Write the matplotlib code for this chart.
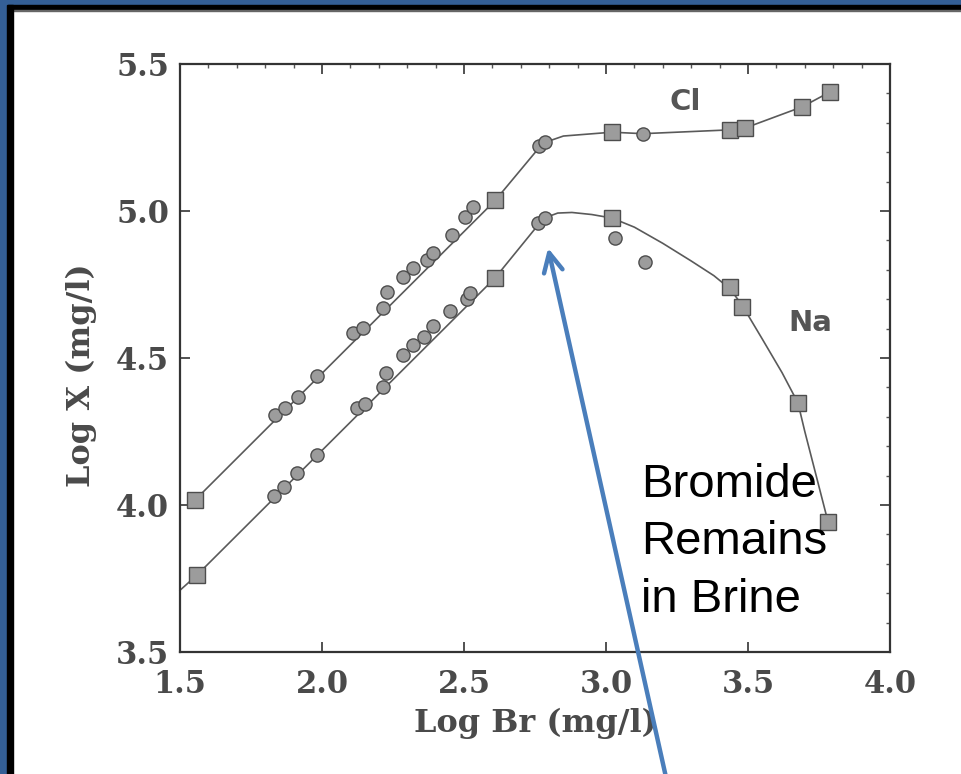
import matplotlib
matplotlib.use("Agg")
import matplotlib.pyplot as plt
from matplotlib.patches import Rectangle
from matplotlib.ticker import MultipleLocator

# ---------------- data ----------------
cl_line_x = [1.553, 2.609, 2.778, 2.85, 3.021, 3.13, 3.437, 3.489, 3.690, 3.789]
cl_line_y = [4.017, 5.035, 5.231, 5.255, 5.268, 5.263, 5.276, 5.282, 5.354, 5.405]

cl_circ_x = [1.835, 1.87, 1.915, 1.982, 2.109, 2.144, 2.215, 2.229, 2.285, 2.320, 2.370, 2.391, 2.458, 2.504, 2.532, 2.765, 2.785, 3.130]
cl_circ_y = [4.305, 4.33, 4.367, 4.439, 4.585, 4.602, 4.670, 4.724, 4.776, 4.806, 4.833, 4.857, 4.918, 4.980, 5.014, 5.22, 5.235, 5.262]

cl_sq_x = [1.553, 2.609, 3.021, 3.437, 3.489, 3.690, 3.789]
cl_sq_y = [4.017, 5.037, 5.269, 5.276, 5.282, 5.354, 5.405]

na_line_x = [1.5, 1.56, 2.609, 2.78, 2.83, 2.88, 2.95, 3.021, 3.1, 3.2, 3.3, 3.38, 3.437, 3.479,
             3.55, 3.62, 3.676, 3.70, 3.74, 3.782]
na_line_y = [3.71, 3.762, 4.772, 4.975, 4.993, 4.995, 4.988, 4.976, 4.945, 4.89, 4.83, 4.78, 4.735, 4.68,
             4.565, 4.45, 4.347, 4.25, 4.10, 3.942]

na_circ_x = [1.83, 1.865, 1.912, 1.982, 2.123, 2.15, 2.215, 2.225, 2.285, 2.32, 2.36, 2.39, 2.451, 2.51, 2.52, 2.76, 2.785, 3.032, 3.137]
na_circ_y = [4.03, 4.06, 4.11, 4.17, 4.33, 4.345, 4.40, 4.45, 4.51, 4.545, 4.57, 4.61, 4.66, 4.70, 4.72, 4.96, 4.976, 4.908, 4.827]

na_sq_x = [1.56, 2.609, 3.021, 3.437, 3.479, 3.676, 3.782]
na_sq_y = [3.762, 4.772, 4.976, 4.741, 4.673, 4.347, 3.942]

x_ticks = [1.5, 2.0, 2.5, 3.0, 3.5, 4.0]
x_tick_labels = ["1.5", "2.0", "2.5", "3.0", "3.5", "4.0"]
y_ticks = [3.5, 4.0, 4.5, 5.0, 5.5]
y_tick_labels = ["3.5", "4.0", "4.5", "5.0", "5.5"]

# ---------------- figure ----------------
W, H = 962, 774
fig = plt.figure(figsize=(W / 100, H / 100), dpi=100)
fig.patch.set_facecolor("white")

# frame borders (top and left)
blue = "#345f96"
fig.patches.append(Rectangle((0, 1 - 5 / H), 1, 5 / H, transform=fig.transFigure, color=blue, zorder=0))
fig.patches.append(Rectangle((0, 1 - 10 / H), 1, 5 / H, transform=fig.transFigure, color="black", zorder=0))
fig.patches.append(Rectangle((0, 1 - 11 / H), 1, 1 / H, transform=fig.transFigure, color="#666666", zorder=0))
fig.patches.append(Rectangle((0, 0), 7 / W, 1, transform=fig.transFigure, color=blue, zorder=1))
fig.patches.append(Rectangle((7 / W, 0), 6 / W, 1 - 5 / H, transform=fig.transFigure, color="black", zorder=1))

ax = fig.add_axes([180 / W, 1 - 652 / H, 710 / W, 588 / H])
ax.set_xlim(1.5, 4.0)
ax.set_ylim(3.5, 5.5)

tc = "#4a4a4a"
lc = "#5a5a5a"
fc = "#9c9c9c"
ec = "#4d4d4d"

ax.plot(cl_line_x, cl_line_y, color=lc, lw=1.2, zorder=2)
ax.plot(na_line_x, na_line_y, color=lc, lw=1.2, zorder=2, clip_on=False)
ax.plot(cl_circ_x, cl_circ_y, "o", ms=9.5, mfc=fc, mec=ec, mew=1.0, zorder=3)
ax.plot(na_circ_x, na_circ_y, "o", ms=9.5, mfc=fc, mec=ec, mew=1.0, zorder=3)
ax.plot(cl_sq_x, cl_sq_y, "s", ms=11, mfc=fc, mec=ec, mew=1.0, zorder=3)
ax.plot(na_sq_x, na_sq_y, "s", ms=11, mfc=fc, mec=ec, mew=1.0, zorder=3)

ax.text(3.28, 5.37, "Cl", fontsize=21, fontweight="bold", color="#555555",
        family="DejaVu Sans", ha="center", va="center")
ax.text(3.72, 4.62, "Na", fontsize=21, fontweight="bold", color="#555555",
        family="DejaVu Sans", ha="center", va="center")

for s in ax.spines.values():
    s.set_color("#333333")
    s.set_linewidth(1.6)

ax.set_xticks(x_ticks)
ax.set_xticklabels(x_tick_labels)
ax.set_yticks(y_ticks)
ax.set_yticklabels(y_tick_labels)
ax.yaxis.set_minor_locator(MultipleLocator(0.1))
ax.xaxis.set_minor_locator(MultipleLocator(0.1))
ax.tick_params(which="major", direction="in", length=7, width=1.2, color="#333333",
               top=True, right=True, labelsize=22, labelcolor=tc)
ax.tick_params(axis="x", which="major", pad=12)
ax.tick_params(axis="y", which="major", pad=8)
ax.tick_params(which="minor", direction="in", length=3, width=1.0, color="#555555",
               top=True, right=True, left=False, bottom=False)
for lab in ax.get_xticklabels() + ax.get_yticklabels():
    lab.set_family("DejaVu Serif")
    lab.set_fontweight("bold")

ax.set_xlabel("Log Br (mg/l)", fontsize=23, fontweight="bold", color=tc,
              family="DejaVu Serif", labelpad=6)
ax.set_ylabel("Log X (mg/l)", fontsize=23, fontweight="bold", color=tc,
              family="DejaVu Serif", labelpad=8)
ax.yaxis.set_label_coords(-0.117, 0.47)

# annotation arrow and text
ax.annotate("", xy=(2.796, 4.874), xycoords="data",
            xytext=(667 / W, -0.01), textcoords="figure fraction",
            arrowprops=dict(arrowstyle="->", color="#4a7ebb", lw=3.2, mutation_scale=34,
                            shrinkA=0, shrinkB=0),
            annotation_clip=False, zorder=5)

for line, yb in zip(["Bromide", "Remains", "in Brine"], [497, 554, 612]):
    fig.text(641 / W, 1 - yb / H, line, fontsize=34, color="black",
             family="Liberation Sans", ha="left", va="baseline")

fig.savefig("out.png", dpi=100, facecolor="white")
